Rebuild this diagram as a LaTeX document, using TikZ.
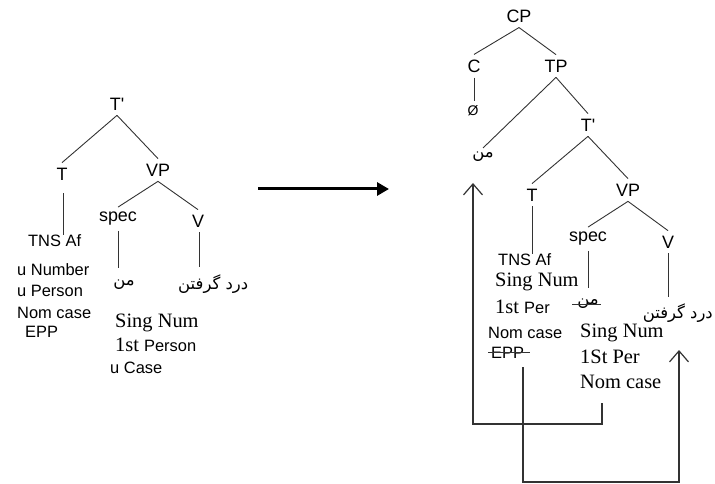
\documentclass[tikz,border=0pt]{standalone}
\usepackage{fontspec}
\setmainfont{Liberation Serif}
\setsansfont{Liberation Sans}
\newfontfamily\arabicfont[Script=Arabic]{DejaVu Sans}
\TeXXeTstate=1
\usetikzlibrary{arrows.meta}

\begin{document}
\begin{tikzpicture}[x=1bp, y=-1bp,
  lbl/.style={font=\fontsize{18}{20}\sffamily, inner sep=5bp},
  feat/.style={font=\fontsize{16.5}{19}\sffamily, inner sep=0pt, anchor=base west},
  ser/.style={font=\fontsize{20.5}{23}\rmfamily, inner sep=0pt, anchor=base west},
  fa/.style={font=\fontsize{16.5}{19}\arabicfont, inner sep=4bp},
  edge/.style={line width=0.9bp, black!80},
  move/.style={line width=1.2bp, black!80, -{Straight Barb[length=11bp,width=19bp]}}]
  \useasboundingbox (0,0) rectangle (715,484);

  % Left tree
  \node[lbl] (lTbar) at (117,104) {T\textquotesingle};
  \node[lbl] (lT)    at (62,174)  {T};
  \node[lbl] (lVP)   at (158,170) {VP};
  \node[lbl] (lspec) at (118,219) {spec};
  \node[lbl] (lV)    at (198,221) {V};
  \node[feat] (lTNS) at (28,247)  {TNS Af};
  \node[fa] (lman)   at (124,285) {\beginR من\endR};
  \node[fa, anchor=west] (lverb) at (174,284) {\beginR درد گرفتن\endR};

  \draw[edge] (lTbar.south) -- (lT.north);
  \draw[edge] (lTbar.south) -- (lVP.north);
  \draw[edge] (lVP.south) -- (lspec.north);
  \draw[edge] (lVP.south) -- (lV.north);
  \draw[edge] ([xshift=1bp,yshift=-8bp]lT.south) -- ([xshift=1bp]lT.south |- lTNS.north);
  \draw[edge] (lspec.south) -- ([yshift=8bp]lspec.south |- lman.north);
  \draw[edge] ([xshift=1bp]lV.south) -- ([xshift=1bp,yshift=3bp]lV.south |- lverb.north);

  % Left features
  \node[feat] (lNum)  at (17,276)  {u Number};
  \node[feat] (lPer)  at (17,296)  {u Person};
  \node[feat] (lNom)  at (17,318)  {Nom case};
  \node[feat] (lEPP)  at (25,337)  {EPP};
  \node[ser]  (lSing) at (115,327) {Sing Num};
  \node[ser]  (l1st)  at (115,351) {1st {\fontsize{16.5}{19}\sffamily Person}};
  \node[feat] (lCase) at (110,373) {u Case};

  % Arrow
  \coordinate (arrL) at (258,189);
  \coordinate (arrR) at (389,189);
  \draw[line width=3bp, -{Triangle[length=12bp,width=13bp]}] (arrL) -- (arrR);

  % Right tree
  \node[lbl] (rCP)   at (519,16)  {CP};
  \node[lbl] (rC)    at (474,66)  {C};
  \node[lbl] (rTP)   at (556,66)  {TP};
  \node[lbl, font=\fontsize{14}{16}\sffamily] (rnull) at (473,111) {Ø};
  \node[fa] (rman)   at (483,157) {\beginR من\endR};
  \node[lbl] (rTbar) at (588,125) {T\textquotesingle};
  \node[lbl] (rT)    at (532,195) {T};
  \node[lbl] (rVP)   at (628,190) {VP};
  \node[lbl] (rspec) at (588,239) {spec};
  \node[lbl] (rV)    at (668,242) {V};

  \draw[edge] (rCP.south) -- (rC.north);
  \draw[edge] (rCP.south) -- (rTP.north);
  \draw[edge] (rC.south) -- (rC.south |- rnull.north);
  \draw[edge] (rTP.south) -- (rman.north);
  \draw[edge] (rTP.south) -- (rTbar.north);
  \draw[edge] (rTbar.south) -- (rT.north);
  \draw[edge] (rTbar.south) -- (rVP.north);
  \draw[edge] (rVP.south) -- (rspec.north);
  \draw[edge] (rVP.south) -- (rV.north);

  % Right features
  \node[feat] (rTNS)  at (498,266) {TNS Af};
  \node[ser]  (rSing) at (495,286) {Sing Num};
  \node[ser]  (r1st)  at (495,313) {1st {\fontsize{16.5}{19}\sffamily Per}};
  \node[feat] (rNom)  at (488,338) {Nom case};
  \node[feat] (rEPP)  at (491,358) {EPP};
  \node[fa, inner sep=0pt] (rman2) at (588,304) {\beginR من\endR};
  \node[fa, anchor=east, inner sep=0pt] (rverb) at (713,313) {\beginR درد گرفتن\endR};
  \node[ser]  (rSing2) at (580,337) {Sing Num};
  \node[ser]  (r1St)   at (580,363) {1St Per};
  \node[ser]  (rNom2)  at (580,388) {Nom case};

  \draw[edge] (rT.south) -- (rT.south |- rTNS.north);
  \draw[edge] (rspec.south) -- ([yshift=11bp]rspec.south |- rman2.north);
  \draw[edge] (rV.south) -- ([yshift=6bp]rV.south |- rverb.north);

  % Struck out
  \draw[edge] ([xshift=-3bp]rEPP.west) -- ([xshift=6bp]rEPP.east);
  \draw[edge] ([xshift=-5bp]rman2.west) -- ([xshift=2bp]rman2.east);

  % Movement
  \coordinate (verbgoal) at (679,350);
  \draw[move] ([shift={(22,15)}]rNom2.base west) -- ++(0,21) -| ([shift={(-10,26)}]rman.center);
  \draw[move] ([shift={(32,9)}]rEPP.base west) -- ++(0,115) -| (verbgoal);
\end{tikzpicture}
\end{document}
